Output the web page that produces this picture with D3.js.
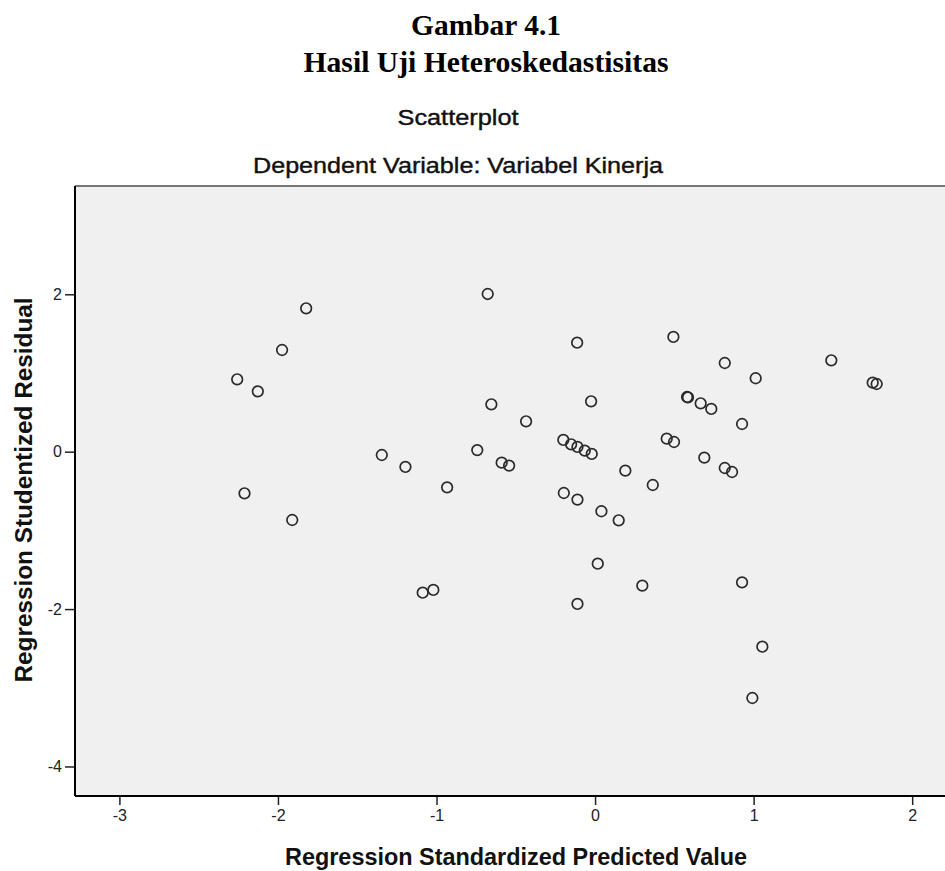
<!DOCTYPE html>
<html>
<head>
<meta charset="utf-8">
<script src="https://cdn.jsdelivr.net/npm/d3@7"></script>
<style>
  body { margin: 0; background: #fff; }
  .tick text { font-family: "Liberation Sans", Arial, sans-serif; font-size: 16px; fill: #222; }
</style>
</head>
<body>
<div id="plot"></div>
<script>
// residual scatter values
var predicted = [-2.257, -2.127, -1.974, -1.822, -1.345, -1.196, -0.933, -0.743, -2.211, -1.910,
  -0.677, -0.113, 0.494, 0.818, 1.013, 1.490, 1.751, 1.776, -0.654, -0.435,
  -0.025, 0.580, 0.586, 0.666, 0.733, 0.927, -0.589, -0.542, -0.200, -0.151,
  -0.111, -0.065, -0.021, 0.452, 0.498, 0.689, 0.818, 0.864, 0.191, 0.364,
  -0.197, -0.111, 0.040, 0.149, -1.087, -1.020, 0.017, 0.298, -0.111, 0.927,
  1.055, 0.992];
var residual = [0.920, 0.767, 1.292, 1.822, -0.042, -0.194, -0.453, 0.020, -0.529, -0.868,
  2.004, 1.385, 1.458, 1.127, 0.933, 1.161, 0.877, 0.860, 0.602, 0.386,
  0.640, 0.695, 0.690, 0.615, 0.543, 0.352, -0.139, -0.177, 0.149, 0.094,
  0.060, 0.013, -0.029, 0.166, 0.123, -0.076, -0.207, -0.258, -0.241, -0.423,
  -0.525, -0.609, -0.757, -0.872, -1.792, -1.757, -1.423, -1.702, -1.935, -1.660,
  -2.478, -3.130];
var xTicks = [-3, -2, -1, 0, 1, 2];
var yTicks = [-4, -2, 0, 2];

var width = 945, height = 871;
var plotLeft = 75, plotTop = 186, plotRight = 945, plotBottom = 796;

var svg = d3.select('#plot')
  .append('svg')
  .attr('width', width)
  .attr('height', height);

var x = d3.scaleLinear().domain([-3.28, 2.207]).range([plotLeft, plotRight]);
var y = d3.scaleLinear().domain([-4.375, 3.376]).range([plotBottom, plotTop]);

// titles
var serif = '"Liberation Serif", "Times New Roman", serif';
var sans = '"Liberation Sans", Arial, sans-serif';

function label(txt, tx, ty, font, size, weight, len) {
  return svg.append('text')
    .attr('x', tx)
    .attr('y', ty)
    .attr('text-anchor', 'middle')
    .attr('textLength', len)
    .attr('lengthAdjust', 'spacingAndGlyphs')
    .style('font-family', font)
    .style('font-size', size + 'px')
    .style('font-weight', weight)
    .style('fill', '#000')
    .text(txt);
}

label('Gambar 4.1', 486, 35, serif, 29, 'bold', 150);
label('Hasil Uji Heteroskedastisitas', 486, 72, serif, 29, 'bold', 365);
label('Scatterplot', 458, 125, sans, 22, 'normal', 121)
  .style('fill', '#111').style('stroke', '#111').style('stroke-width', '0.4px');
label('Dependent Variable: Variabel Kinerja', 458, 173, sans, 22, 'normal', 410)
  .style('fill', '#111').style('stroke', '#111').style('stroke-width', '0.4px');

// plot background
svg.append('rect')
  .attr('x', plotLeft)
  .attr('y', plotTop)
  .attr('width', plotRight - plotLeft)
  .attr('height', plotBottom - plotTop)
  .style('fill', '#f0f0f0');

svg.append('line')
  .attr('x1', plotLeft).attr('x2', plotRight)
  .attr('y1', plotTop).attr('y2', plotTop)
  .style('stroke', '#777')
  .style('stroke-width', '2px');

// axes
var fmt = function (d) { return String(d); };
var xAxis = svg.append('g')
  .attr('transform', 'translate(0,' + plotBottom + ')')
  .call(d3.axisBottom(x).tickValues(xTicks).tickSize(9).tickPadding(5).tickFormat(fmt));
var yAxis = svg.append('g')
  .attr('transform', 'translate(' + plotLeft + ',0)')
  .call(d3.axisLeft(y).tickValues(yTicks).tickSize(10).tickPadding(3).tickFormat(fmt));

[xAxis, yAxis].forEach(function (a) {
  a.select('.domain').remove();
  a.selectAll('.tick line').style('stroke', '#222').style('stroke-width', '1.5px');
});

svg.append('line')
  .attr('x1', plotLeft).attr('x2', plotRight)
  .attr('y1', plotBottom).attr('y2', plotBottom)
  .style('stroke', '#000').style('stroke-width', '2px');
svg.append('line')
  .attr('x1', plotLeft).attr('x2', plotLeft)
  .attr('y1', plotTop).attr('y2', plotBottom)
  .style('stroke', '#000').style('stroke-width', '2px');

// axis titles
label('Regression Standardized Predicted Value', 516, 865, sans, 23, 'bold', 462).style('fill', '#111');
svg.append('text')
  .attr('transform', 'translate(32,490) rotate(-90)')
  .attr('text-anchor', 'middle')
  .attr('textLength', 385)
  .attr('lengthAdjust', 'spacingAndGlyphs')
  .style('font-family', sans)
  .style('font-size', '24px')
  .style('font-weight', 'bold')
  .style('fill', '#111')
  .text('Regression Studentized Residual');

// points
svg.append('g')
  .selectAll('circle')
  .data(predicted)
  .enter()
  .append('circle')
  .attr('cx', function (d) { return x(d); })
  .attr('cy', function (d, i) { return y(residual[i]); })
  .attr('r', 5.3)
  .style('fill', 'none')
  .style('stroke', '#2a2a2a')
  .style('stroke-width', '1.7px');
</script>
</body>
</html>
